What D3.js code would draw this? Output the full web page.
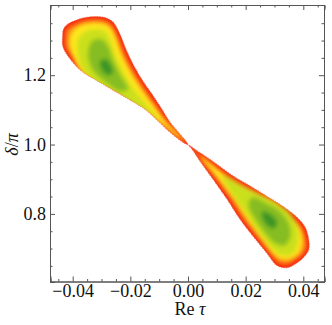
<!DOCTYPE html>
<html>
<head>
<meta charset="utf-8">
<script src="https://cdn.jsdelivr.net/npm/d3@7"></script>
<style>
body { margin: 0; background: #fff; }
svg { display: block; }
.axis path, .axis line { stroke: #555; }
.axis text { font-family: 'Liberation Serif', 'Times New Roman', serif; font-size: 18px; fill: #111; }
.label { font-family: 'Liberation Serif', 'Times New Roman', serif; font-size: 18px; fill: #111; }
</style>
</head>
<body>
<script>
/* global d3 */
// tick values
var xMajor = [-0.04, -0.02, 0.00, 0.02, 0.04]
var xMinor = [-0.045, -0.035, -0.03, -0.025, -0.015, -0.01, -0.005, 0.005, 0.01, 0.015, 0.025, 0.03, 0.035, 0.045]
var yMajor = [0.8, 1.0, 1.2]
var yMinor = [0.65, 0.7, 0.75, 0.85, 0.9, 0.95, 1.05, 1.1, 1.15, 1.25, 1.3, 1.35]

// density contours [Re tau, delta/pi], outer -> inner
var upperEdge = [[-0.04337, 1.2810], [-0.04354, 1.3099], [-0.04319, 1.3330], [-0.04163, 1.3475], [-0.03920, 1.3576],
  [-0.03572, 1.3663], [-0.03225, 1.3692], [-0.02878, 1.3663], [-0.02600, 1.3533], [-0.02426, 1.3301], [-0.02287, 1.3041],
  [-0.02183, 1.2810], [-0.01905, 1.2318], [-0.01558, 1.1826], [-0.01245, 1.1450], [-0.00967, 1.1103], [-0.00620, 1.0641],
  [-0.00273, 1.0294], [-0.00064, 1.0091], [0.0, 1.0], [-0.00168, 1.0062], [-0.00620, 1.0352], [-0.01210, 1.0814],
  [-0.01488, 1.1017], [-0.01940, 1.1248], [-0.02530, 1.1537], [-0.03121, 1.1826], [-0.03682, 1.2116], [-0.04029, 1.2405]]
var upperOrange = [[-0.04232, 1.2810], [-0.04249, 1.3070], [-0.04214, 1.3301], [-0.04076, 1.3403], [-0.03867, 1.3489],
  [-0.03555, 1.3576], [-0.03225, 1.3605], [-0.02895, 1.3576], [-0.02669, 1.3460], [-0.02513, 1.3244], [-0.02391, 1.3012],
  [-0.02287, 1.2781], [-0.02009, 1.2289], [-0.01662, 1.1798], [-0.01349, 1.1407], [-0.01071, 1.1075], [-0.00724, 1.0641],
  [-0.00377, 1.0294], [-0.00064, 1.0077], [-0.00273, 1.0149], [-0.00689, 1.0438], [-0.01245, 1.0901], [-0.01558, 1.1089],
  [-0.01974, 1.1320], [-0.02530, 1.1610], [-0.03103, 1.1899], [-0.03624, 1.2188], [-0.03954, 1.2477]]
var upperYellow = [[-0.04093, 1.2839], [-0.04093, 1.3099], [-0.03954, 1.3301], [-0.03676, 1.3446], [-0.03225, 1.3504],
  [-0.02843, 1.3446], [-0.02634, 1.3301], [-0.02495, 1.3041], [-0.02356, 1.2694], [-0.02113, 1.2260], [-0.01766, 1.1769],
  [-0.01315, 1.1248], [-0.00794, 1.0699], [-0.00273, 1.0265], [-0.00064, 1.0091], [-0.00342, 1.0207], [-0.00967, 1.0612],
  [-0.01592, 1.0988], [-0.02356, 1.1393], [-0.03051, 1.1711], [-0.03607, 1.2000], [-0.03919, 1.2376]]
var upperLime = [[-0.03850, 1.2752], [-0.03815, 1.3041], [-0.03607, 1.3244], [-0.03225, 1.3330], [-0.02878, 1.3272],
  [-0.02704, 1.3041], [-0.02565, 1.2694], [-0.02322, 1.2231], [-0.01974, 1.1711], [-0.01488, 1.1190], [-0.01037, 1.0728],
  [-0.01488, 1.0959], [-0.02183, 1.1306], [-0.02878, 1.1624], [-0.03398, 1.1884], [-0.03711, 1.2260]]
var upperGreen = [[-0.03468, 1.2694], [-0.03329, 1.2983], [-0.03016, 1.3041], [-0.02773, 1.2839], [-0.02600, 1.2463],
  [-0.02356, 1.2029], [-0.02079, 1.1595], [-0.02356, 1.1537], [-0.02808, 1.1769], [-0.03225, 1.2058], [-0.03433, 1.2376]]
var upperCore = [[-0.03051, 1.2405], [-0.02843, 1.2463], [-0.02669, 1.2289], [-0.02600, 1.2087], [-0.02773, 1.2000],
  [-0.02981, 1.2145]]

var lowerEdge = [[0.0, 1.0], [0.00248, 0.9860], [0.00769, 0.9571], [0.01568, 0.9094], [0.02158, 0.8804], [0.02749, 0.8501],
  [0.03305, 0.8211], [0.03791, 0.7893], [0.04069, 0.7604], [0.04190, 0.7257], [0.04190, 0.6968], [0.03999, 0.6737],
  [0.03791, 0.6592], [0.03443, 0.6447], [0.03096, 0.6505], [0.02749, 0.6852], [0.02263, 0.7344], [0.01811, 0.7836],
  [0.01360, 0.8414], [0.00873, 0.8992], [0.00422, 0.9513], [0.00144, 0.9860]]
var lowerOrange = [[0.00144, 0.9918], [0.00769, 0.9484], [0.01568, 0.9007], [0.02158, 0.8718], [0.02714, 0.8414],
  [0.03235, 0.8125], [0.03687, 0.7836], [0.03964, 0.7561], [0.04086, 0.7243], [0.04086, 0.6982], [0.03912, 0.6794],
  [0.03721, 0.6679], [0.03443, 0.6549], [0.03148, 0.6592], [0.02818, 0.6910], [0.02350, 0.7402], [0.01898, 0.7893],
  [0.01447, 0.8472], [0.00960, 0.9050], [0.00491, 0.9571], [0.00075, 0.9947]]
var lowerYellow = [[0.00596, 0.9571], [0.01464, 0.8992], [0.02332, 0.8645], [0.03131, 0.8298], [0.03617, 0.7922],
  [0.03895, 0.7546], [0.03964, 0.7170], [0.03826, 0.6852], [0.03548, 0.6708], [0.03235, 0.6708], [0.02923, 0.6881],
  [0.02506, 0.7315], [0.02054, 0.7836], [0.01638, 0.8356], [0.01117, 0.8934], [0.00422, 0.9629]]
var lowerLime = [[0.01186, 0.9108], [0.01985, 0.8761], [0.02784, 0.8443], [0.03443, 0.8096], [0.03756, 0.7691],
  [0.03826, 0.7257], [0.03721, 0.6939], [0.03478, 0.6794], [0.03200, 0.6823], [0.02853, 0.7055], [0.02436, 0.7489],
  [0.02020, 0.8009], [0.01568, 0.8530]]
var lowerGreen = [[0.02228, 0.8472], [0.02679, 0.8327], [0.03200, 0.8067], [0.03513, 0.7691], [0.03548, 0.7315],
  [0.03339, 0.7084], [0.03027, 0.7142], [0.02679, 0.7431], [0.02332, 0.7836], [0.02089, 0.8269]]
var lowerCore = [[0.02575, 0.8067], [0.02923, 0.7951], [0.03096, 0.7720], [0.02957, 0.7575], [0.02714, 0.7691],
  [0.02575, 0.7893]]

var levelColors = ['#f42a12', '#ff8c14', '#ffe61c', '#cbe01e', '#86bd20', '#3a9526']

var width = 332
var height = 325
var plotLeft = 50.5
var plotRight = 324.5
var plotTop = 5
var plotBottom = 282

var x = d3.scaleLinear().domain([-0.0477, 0.04735]).range([plotLeft, plotRight])
var y = d3.scaleLinear().domain([0.6035, 1.4025]).range([plotBottom, plotTop])

var svg = d3.select('body').append('svg')
  .attr('width', width)
  .attr('height', height)

var defs = svg.append('defs')
defs.append('filter')
  .attr('id', 'soft')
  .attr('x', '-20%').attr('y', '-20%').attr('width', '140%').attr('height', '140%')
  .append('feGaussianBlur')
  .attr('stdDeviation', 2.2)

var line = d3.line()
  .x(function (d) { return x(d[0]) })
  .y(function (d) { return y(d[1]) })
  .curve(d3.curveCatmullRomClosed.alpha(0.5))

var blobs = [
  { id: 'upper', levels: [upperEdge, upperOrange, upperYellow, upperLime, upperGreen, upperCore] },
  { id: 'lower', levels: [lowerEdge, lowerOrange, lowerYellow, lowerLime, lowerGreen, lowerCore] }
]

blobs.forEach(function (b) {
  defs.append('clipPath')
    .attr('id', 'clip-' + b.id)
    .append('path')
    .attr('d', line(b.levels[0]))

  var g = svg.append('g')
  // ragged light fringe round the edge
  g.append('path')
    .attr('d', line(b.levels[0]))
    .attr('fill', levelColors[0])
    .attr('stroke', '#ff6a5c')
    .attr('stroke-width', 1.2)
    .attr('stroke-dasharray', '1,1.5')
    .attr('stroke-opacity', 0.8)

  g.append('g')
    .attr('clip-path', 'url(#clip-' + b.id + ')')
    .append('g')
    .attr('filter', 'url(#soft)')
    .selectAll('path')
    .data(b.levels.slice(1))
    .enter().append('path')
    .attr('d', line)
    .attr('fill', function (d, i) { return levelColors[i + 1] })
})

// frame with inward ticks on all sides
function addAxis (axis, tx, ty) {
  return svg.append('g')
    .attr('class', 'axis')
    .attr('transform', 'translate(' + tx + ',' + ty + ')')
    .call(axis)
}

var fx = d3.format('.2f')
var fy = d3.format('.1f')

addAxis(d3.axisBottom(x).tickValues(xMajor).tickSize(-5).tickPadding(3).tickFormat(fx), 0, plotBottom - 0.5)
addAxis(d3.axisBottom(x).tickValues(xMinor).tickSize(-2.5).tickFormat(''), 0, plotBottom - 0.5)
addAxis(d3.axisTop(x).tickValues(xMajor).tickSize(-5).tickFormat(''), 0, plotTop)
addAxis(d3.axisTop(x).tickValues(xMinor).tickSize(-2.5).tickFormat(''), 0, plotTop)

addAxis(d3.axisLeft(y).tickValues(yMajor).tickSize(-5).tickPadding(4).tickFormat(fy), plotLeft - 0.5, 0)
addAxis(d3.axisLeft(y).tickValues(yMinor).tickSize(-2.5).tickFormat(''), plotLeft - 0.5, 0)
addAxis(d3.axisRight(y).tickValues(yMajor).tickSize(-5).tickFormat(''), plotRight - 0.5, 0)
addAxis(d3.axisRight(y).tickValues(yMinor).tickSize(-2.5).tickFormat(''), plotRight - 0.5, 0)

// axis labels
var xl = svg.append('text')
  .attr('class', 'label')
  .attr('x', x(0) + 2)
  .attr('y', 315)
  .attr('text-anchor', 'middle')
xl.append('tspan').text('Re ')
xl.append('tspan').attr('font-style', 'italic').text('τ')

var yl = svg.append('text')
  .attr('class', 'label')
  .attr('transform', 'translate(18,' + y(1.0) + ') rotate(-90)')
  .attr('text-anchor', 'middle')
yl.append('tspan').attr('font-style', 'italic').text('δ')
yl.append('tspan').text('/')
yl.append('tspan').attr('font-style', 'italic').text('π')
</script>
</body>
</html>
